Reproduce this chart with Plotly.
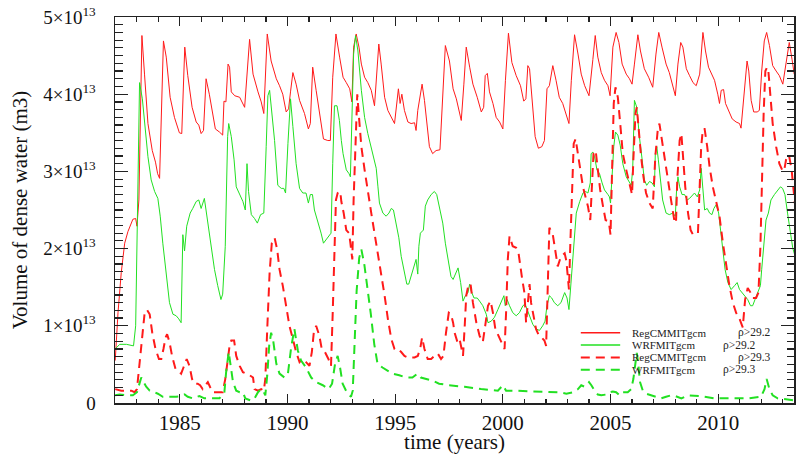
import plotly.graph_objects as go

# ---------------- data (values in units of 1e13 m3) ----------------
reg292_year = [1982.00,1982.13,1982.28,1982.44,1982.59,1982.82,1982.95,1983.01,1983.10,1983.24,1983.36,1983.52,1983.72,1983.87,1983.97,1984.06,1984.24,1984.37,1984.55,1984.75,1984.98,1985.09,1985.23,1985.37,1985.57,1985.76,1985.88,1985.99,1986.10,1986.22,1986.37,1986.53,1986.65,1986.84,1986.99,1987.05,1987.14,1987.24,1987.31,1987.39,1987.55,1987.78,1987.93,1988.01,1988.24,1988.40,1988.63,1988.78,1988.90,1989.06,1989.24,1989.48,1989.63,1989.78,1989.94,1990.05,1990.14,1990.25,1990.40,1990.56,1990.79,1990.97,1991.06,1991.17,1991.33,1991.56,1991.67,1991.87,1991.99,1992.10,1992.25,1992.42,1992.58,1992.73,1992.89,1992.99,1993.07,1993.19,1993.32,1993.43,1993.58,1993.73,1993.89,1994.04,1994.24,1994.35,1994.51,1994.66,1994.82,1994.97,1995.15,1995.23,1995.31,1995.43,1995.59,1995.74,1995.90,1995.97,1996.05,1996.25,1996.36,1996.47,1996.59,1996.74,1996.90,1997.08,1997.21,1997.33,1997.52,1997.69,1997.84,1997.99,1998.07,1998.19,1998.30,1998.46,1998.61,1998.81,1999.00,1999.11,1999.18,1999.28,1999.38,1999.54,1999.69,1999.85,2000.00,2000.12,2000.26,2000.42,2000.62,2000.82,2000.97,2001.07,2001.16,2001.24,2001.39,2001.50,2001.65,2001.81,2001.93,2002.05,2002.16,2002.32,2002.47,2002.62,2002.78,2002.87,2003.07,2003.18,2003.33,2003.49,2003.64,2003.80,2004.00,2004.18,2004.29,2004.41,2004.57,2004.72,2004.88,2004.98,2005.11,2005.26,2005.39,2005.54,2005.73,2005.88,2006.00,2006.11,2006.27,2006.39,2006.57,2006.77,2006.96,2007.11,2007.24,2007.39,2007.58,2007.73,2007.89,2008.01,2008.13,2008.26,2008.36,2008.52,2008.67,2008.83,2008.98,2009.14,2009.29,2009.41,2009.55,2009.71,2009.83,2009.98,2010.06,2010.14,2010.25,2010.34,2010.48,2010.65,2010.83,2010.99,2011.06,2011.19,2011.34,2011.42,2011.53,2011.65,2011.81,2011.91,2012.02,2012.14,2012.25,2012.38,2012.53,2012.69,2012.84,2013.00,2013.15,2013.30,2013.43,2013.53]
reg292_val = [0.55,1.17,1.69,2.07,2.22,2.38,2.39,2.29,2.63,4.76,4.26,3.62,3.27,3.12,2.97,2.91,4.69,4.48,3.96,3.70,3.50,3.49,4.61,4.24,3.83,3.64,3.60,3.49,3.53,4.20,4.00,3.75,3.55,3.51,3.47,3.91,3.90,4.39,4.35,4.03,3.98,3.96,3.88,3.83,4.71,4.26,4.03,3.90,3.75,4.78,4.43,4.20,4.11,4.00,3.77,3.81,4.03,4.28,4.13,3.92,3.75,3.55,3.62,4.35,4.05,3.66,3.42,3.40,3.40,4.22,4.78,4.48,4.22,4.15,4.07,3.90,4.61,4.78,4.61,4.39,4.22,4.15,4.05,3.85,4.65,4.39,3.96,3.79,3.70,3.62,4.07,3.88,4.00,3.79,3.64,3.62,3.63,3.53,3.79,4.13,3.92,3.62,3.32,3.23,3.27,3.28,4.05,4.63,4.43,4.07,3.94,3.75,3.66,4.13,4.61,4.35,4.13,3.96,3.77,3.83,4.24,4.27,4.03,3.88,3.70,3.64,3.55,4.18,4.79,4.41,4.24,4.11,3.91,3.94,4.37,4.33,3.79,3.45,3.30,3.32,3.40,4.07,4.11,4.37,4.18,3.96,3.88,3.79,3.62,4.18,4.77,4.52,4.26,4.11,3.98,4.45,4.76,4.48,4.28,4.18,4.11,3.98,4.61,4.80,4.67,4.39,4.26,4.20,4.13,4.39,4.77,4.56,4.33,4.22,4.09,4.52,4.80,4.61,4.39,4.28,4.11,3.98,4.39,4.67,4.61,4.33,4.24,4.15,4.11,4.26,4.80,4.56,4.35,4.24,4.18,4.00,3.88,4.05,4.06,3.88,3.79,3.68,3.64,3.62,3.56,3.96,4.43,4.30,3.92,3.77,3.77,3.79,4.30,4.69,4.80,4.63,4.37,4.30,4.24,4.13,4.39,4.67,4.45,4.26]

wrf292_year = [1982.00,1982.21,1982.52,1982.75,1982.85,1982.95,1983.01,1983.13,1983.26,1983.36,1983.52,1983.67,1983.83,1983.98,1984.09,1984.21,1984.37,1984.52,1984.68,1984.83,1984.95,1985.06,1985.14,1985.22,1985.32,1985.48,1985.60,1985.76,1985.88,1985.99,1986.14,1986.30,1986.45,1986.61,1986.76,1986.91,1986.99,1987.11,1987.22,1987.27,1987.39,1987.52,1987.62,1987.78,1987.93,1988.04,1988.12,1988.19,1988.32,1988.47,1988.60,1988.75,1988.90,1989.01,1989.09,1989.17,1989.27,1989.40,1989.55,1989.71,1989.83,1989.91,1990.02,1990.14,1990.25,1990.40,1990.56,1990.71,1990.86,1990.97,1991.06,1991.16,1991.25,1991.40,1991.56,1991.67,1991.79,1991.90,1992.02,1992.10,1992.18,1992.30,1992.41,1992.50,1992.58,1992.73,1992.86,1992.92,1992.99,1993.07,1993.16,1993.27,1993.43,1993.58,1993.73,1993.89,1994.00,1994.12,1994.20,1994.27,1994.43,1994.58,1994.71,1994.82,1994.92,1995.05,1995.17,1995.28,1995.43,1995.54,1995.63,1995.74,1995.85,1995.97,1996.05,1996.10,1996.17,1996.31,1996.40,1996.51,1996.67,1996.82,1996.93,1997.05,1997.21,1997.33,1997.44,1997.59,1997.69,1997.84,1997.92,1998.04,1998.15,1998.26,1998.38,1998.46,1998.53,1998.66,1998.81,1998.92,1999.07,1999.23,1999.31,1999.46,1999.61,1999.77,1999.92,2000.05,2000.11,2000.20,2000.31,2000.46,2000.62,2000.77,2000.93,2001.03,2001.13,2001.24,2001.39,2001.54,2001.70,2001.85,2001.96,2002.05,2002.16,2002.27,2002.39,2002.55,2002.70,2002.87,2002.98,2003.07,2003.18,2003.29,2003.41,2003.57,2003.72,2003.84,2003.95,2004.06,2004.10,2004.18,2004.26,2004.37,2004.49,2004.61,2004.72,2004.88,2004.95,2005.00,2005.08,2005.15,2005.23,2005.34,2005.45,2005.57,2005.73,2005.88,2005.96,2006.03,2006.11,2006.22,2006.34,2006.47,2006.57,2006.68,2006.81,2006.93,2007.04,2007.08,2007.15,2007.22,2007.32,2007.42,2007.58,2007.73,2007.89,2008.01,2008.06,2008.13,2008.21,2008.32,2008.44,2008.56,2008.67,2008.78,2008.90,2009.03,2009.14,2009.21,2009.29,2009.37,2009.49,2009.60,2009.71,2009.80,2009.91,2010.02,2010.11,2010.22,2010.32,2010.45,2010.60,2010.76,2010.88,2010.99,2011.10,2011.25,2011.37,2011.50,2011.60,2011.71,2011.84,2011.96,2012.02,2012.11,2012.22,2012.33,2012.45,2012.61,2012.76,2012.89,2012.99,2013.10,2013.22,2013.35,2013.46,2013.61]
wrf292_val = [0.70,0.76,0.76,0.75,0.74,1.00,2.03,4.15,3.94,3.62,3.19,2.89,2.74,2.65,2.42,2.07,1.64,1.30,1.15,1.13,1.09,1.04,2.18,1.97,2.29,2.46,2.52,2.61,2.63,2.52,2.65,2.33,2.03,1.73,1.52,1.34,1.41,2.03,3.45,3.62,3.45,3.15,2.80,2.70,2.61,2.50,3.10,2.74,2.44,2.39,2.33,2.44,2.46,3.32,3.98,4.05,3.79,3.40,2.82,2.78,2.78,2.72,3.36,3.94,3.58,3.10,2.78,2.72,2.72,2.59,2.70,2.70,2.50,2.37,2.20,2.07,2.12,2.16,2.20,3.10,3.85,3.85,3.66,3.40,3.23,3.02,2.97,2.93,3.75,4.52,4.76,4.56,4.05,3.70,3.49,3.30,3.15,3.04,2.80,2.59,2.46,2.42,2.46,2.52,2.50,2.29,2.14,1.90,1.67,1.54,1.54,1.64,1.73,1.86,1.67,2.03,2.20,2.24,2.55,2.63,2.70,2.74,2.70,2.55,2.33,2.07,1.86,1.64,1.60,1.69,1.75,1.56,1.32,1.39,1.43,1.54,1.45,1.36,1.36,1.32,1.26,1.15,1.04,1.06,1.11,1.21,1.30,1.39,1.26,1.34,1.26,1.17,1.13,1.17,1.26,1.28,1.21,1.13,1.02,0.96,0.94,1.00,1.06,1.26,1.39,1.36,1.30,1.26,1.30,1.43,1.36,1.21,1.60,2.03,2.46,2.61,2.72,2.74,2.72,2.85,3.23,3.25,3.19,3.02,2.97,2.85,2.76,2.70,2.67,2.59,2.97,3.32,3.51,3.47,3.34,3.10,2.93,2.85,2.82,3.02,3.92,3.83,3.45,3.15,2.89,2.82,2.87,2.85,2.80,3.23,3.32,3.15,2.89,2.63,2.46,2.44,2.46,2.42,2.72,2.93,2.80,2.70,2.70,2.63,2.65,2.68,2.72,2.67,2.76,3.04,2.76,2.50,2.52,2.46,2.44,2.52,2.57,2.46,2.24,1.99,1.73,1.56,1.47,1.52,1.56,1.47,1.43,1.39,1.34,1.26,1.26,1.34,1.43,1.52,1.73,2.03,2.37,2.46,2.63,2.70,2.76,2.80,2.78,2.70,2.46,2.20,2.01,1.86]

reg293_year = [1982.00,1982.28,1982.75,1982.90,1983.01,1983.13,1983.26,1983.36,1983.47,1983.60,1983.72,1983.87,1984.03,1984.14,1984.24,1984.34,1984.41,1984.52,1984.64,1984.80,1984.91,1985.06,1985.17,1985.32,1985.45,1985.57,1985.68,1985.83,1985.94,1986.06,1986.19,1986.30,1986.40,1986.53,1986.84,1986.99,1987.11,1987.22,1987.31,1987.39,1987.52,1987.62,1987.78,1987.93,1988.09,1988.24,1988.40,1988.47,1988.63,1988.78,1988.90,1988.97,1989.06,1989.17,1989.27,1989.40,1989.52,1989.63,1989.78,1989.94,1990.09,1990.25,1990.40,1990.56,1990.71,1990.86,1991.02,1991.13,1991.22,1991.33,1991.48,1991.59,1991.74,1991.90,1992.02,1992.10,1992.18,1992.25,1992.33,1992.45,1992.50,1992.61,1992.73,1992.86,1992.92,1993.01,1993.07,1993.16,1993.24,1993.32,1993.43,1993.58,1993.73,1993.89,1994.04,1994.20,1994.35,1994.51,1994.66,1994.82,1994.97,1995.12,1995.28,1995.43,1995.59,1995.90,1996.05,1996.16,1996.25,1996.36,1996.51,1996.67,1996.82,1996.98,1997.13,1997.24,1997.36,1997.49,1997.59,1997.69,1997.76,1997.89,1997.99,1998.15,1998.23,1998.30,1998.41,1998.50,1998.61,1998.77,1998.92,1999.07,1999.18,1999.31,1999.43,1999.54,1999.65,1999.80,1999.92,2000.08,2000.15,2000.23,2000.31,2000.46,2000.62,2000.73,2000.88,2001.00,2001.08,2001.16,2001.24,2001.31,2001.44,2001.54,2001.65,2001.81,2001.93,2002.01,2002.08,2002.16,2002.32,2002.42,2002.55,2002.70,2002.87,2002.95,2003.07,2003.13,2003.22,2003.29,2003.38,2003.49,2003.60,2003.72,2003.84,2003.95,2004.06,2004.14,2004.21,2004.31,2004.41,2004.52,2004.65,2004.77,2004.92,2005.00,2005.08,2005.15,2005.23,2005.34,2005.45,2005.57,2005.73,2005.88,2006.00,2006.06,2006.16,2006.22,2006.31,2006.42,2006.53,2006.65,2006.81,2006.96,2007.08,2007.19,2007.27,2007.39,2007.50,2007.65,2007.81,2007.96,2008.04,2008.10,2008.21,2008.29,2008.36,2008.47,2008.60,2008.72,2008.83,2009.06,2009.14,2009.21,2009.29,2009.37,2009.49,2009.60,2009.75,2009.91,2010.06,2010.22,2010.37,2010.52,2010.68,2010.83,2010.99,2011.14,2011.25,2011.37,2011.50,2011.60,2011.76,2011.87,2011.96,2012.02,2012.11,2012.19,2012.27,2012.33,2012.42,2012.53,2012.69,2012.84,2013.00,2013.07,2013.15,2013.22,2013.30,2013.41,2013.50,2013.61]
reg293_val = [0.18,0.16,0.16,0.14,0.18,0.53,0.91,1.15,1.21,1.15,0.91,0.70,0.57,0.57,0.70,0.85,0.89,0.79,0.61,0.44,0.42,0.38,0.46,0.57,0.48,0.31,0.25,0.25,0.23,0.18,0.23,0.27,0.21,0.14,0.14,0.14,0.31,0.59,0.74,0.81,0.81,0.61,0.48,0.40,0.38,0.36,0.33,0.18,0.16,0.18,0.16,0.31,0.96,1.69,2.07,2.14,1.99,1.73,1.52,1.26,1.00,0.83,0.66,0.53,0.57,0.53,0.48,0.66,0.91,1.00,0.87,0.70,0.66,0.57,0.48,1.17,2.03,2.63,2.72,2.74,2.61,2.46,2.24,2.20,2.07,1.86,2.63,3.53,4.00,3.70,3.32,3.02,2.72,2.46,2.20,1.94,1.64,1.39,1.09,0.83,0.70,0.70,0.66,0.61,0.59,0.59,0.61,0.70,0.85,0.70,0.57,0.57,0.61,0.64,0.57,0.61,0.91,1.17,1.15,1.04,0.91,0.79,0.83,0.61,1.00,1.39,1.54,1.54,1.30,1.04,0.87,0.79,1.00,1.26,1.32,1.17,0.96,0.87,0.79,0.70,1.17,1.86,2.16,2.03,2.01,1.94,1.64,1.43,1.04,1.30,1.54,1.30,1.09,0.96,0.89,0.85,0.81,0.74,1.47,2.27,2.18,1.99,1.77,1.90,1.94,1.84,1.47,2.03,2.89,3.36,3.42,3.23,3.02,2.80,2.67,2.55,2.37,2.89,3.23,3.27,3.02,2.76,2.55,2.37,2.35,2.18,3.10,3.88,4.09,3.96,3.62,3.23,3.02,2.85,2.70,3.15,3.75,3.83,3.53,3.19,2.93,2.72,2.59,2.52,3.19,3.53,3.62,3.40,3.15,2.89,2.63,2.37,2.33,2.89,3.40,3.49,3.23,2.80,2.46,2.24,2.18,2.20,2.80,3.32,3.55,3.55,3.32,3.06,2.80,2.59,2.42,2.07,1.77,1.52,1.30,1.17,1.09,0.98,1.34,1.49,1.43,1.36,1.36,1.43,2.03,2.89,3.75,4.30,4.35,4.30,3.96,3.62,3.32,3.10,3.00,3.02,3.15,3.21,3.19,3.02,2.76,2.45]

wrf293_year = [1982.00,1982.21,1982.52,1982.82,1983.01,1983.13,1983.21,1983.32,1983.44,1983.60,1983.75,1983.98,1984.21,1984.52,1984.83,1985.06,1985.22,1985.37,1985.60,1985.91,1986.14,1986.53,1986.84,1987.07,1987.15,1987.27,1987.36,1987.47,1987.62,1987.78,1987.93,1988.04,1988.32,1988.47,1988.63,1988.78,1988.90,1988.97,1989.06,1989.15,1989.24,1989.34,1989.48,1989.63,1989.86,1990.02,1990.17,1990.32,1990.48,1990.63,1990.86,1991.10,1991.33,1991.64,1991.91,1992.07,1992.21,1992.33,1992.44,1992.56,1992.75,1992.95,1993.03,1993.10,1993.21,1993.33,1993.43,1993.57,1993.72,1993.87,1994.03,1994.18,1994.41,1994.65,1994.88,1995.19,1995.49,1995.80,1996.03,1996.19,1996.42,1996.73,1997.04,1997.50,1998.22,1998.99,1999.77,2000.00,2000.15,2000.54,2001.31,2002.08,2002.64,2002.95,2003.26,2003.49,2003.64,2003.80,2004.00,2004.11,2004.26,2004.41,2004.57,2004.80,2004.95,2005.11,2005.26,2005.42,2005.57,2005.80,2005.96,2006.06,2006.16,2006.22,2006.28,2006.37,2006.50,2006.65,2006.88,2007.11,2007.35,2007.58,2007.81,2008.01,2008.29,2008.60,2009.21,2009.83,2010.60,2011.37,2011.99,2012.15,2012.25,2012.38,2012.53,2012.76,2013.15,2013.61]
wrf293_val = [0.10,0.11,0.10,0.10,0.14,0.27,0.33,0.27,0.21,0.16,0.15,0.12,0.08,0.08,0.08,0.09,0.11,0.08,0.06,0.09,0.06,0.06,0.06,0.14,0.40,0.66,0.48,0.27,0.16,0.14,0.14,0.06,0.03,0.06,0.14,0.18,0.14,0.10,0.36,0.74,0.91,0.80,0.51,0.38,0.33,0.38,0.72,0.96,0.68,0.55,0.46,0.33,0.27,0.23,0.18,0.25,0.51,0.61,0.46,0.25,0.14,0.08,0.16,0.72,1.45,1.88,1.99,1.79,1.49,1.15,0.76,0.51,0.46,0.42,0.38,0.36,0.33,0.33,0.38,0.33,0.31,0.29,0.25,0.23,0.21,0.18,0.16,0.23,0.16,0.16,0.15,0.14,0.14,0.12,0.14,0.18,0.23,0.21,0.27,0.23,0.16,0.11,0.10,0.11,0.14,0.15,0.14,0.10,0.14,0.14,0.18,0.31,0.57,0.65,0.53,0.27,0.16,0.12,0.10,0.08,0.06,0.08,0.10,0.09,0.06,0.10,0.09,0.06,0.06,0.06,0.08,0.18,0.31,0.18,0.10,0.06,0.05,0.03]

SCALE = 1e13
y_tick_vals = [0, 1, 2, 3, 4, 5]
y_tick_text = ["0", "1×10<sup>13</sup>", "2×10<sup>13</sup>", "3×10<sup>13</sup>",
               "4×10<sup>13</sup>", "5×10<sup>13</sup>"]
x_tick_vals = [1985, 1990, 1995, 2000, 2005, 2010]

legend_names = ["RegCMMITgcm", "WRFMITgcm", "RegCMMITgcm", "WRFMITgcm"]
legend_rho = ["ρ>29.2", "ρ>29.2", "ρ>29.3", "ρ>29.3"]

RED = "#ff1a1a"
GREEN = "#22e022"
FONT = "Liberation Serif"

series = [
    (reg292_year, reg292_val, RED, 1, "solid"),
    (wrf292_year, wrf292_val, GREEN, 1, "solid"),
    (reg293_year, reg293_val, RED, 2, "9px,6px"),
    (wrf293_year, wrf293_val, GREEN, 2, "9px,6px"),
]

fig = go.Figure()
for (xs, vs, col, w, dash), nm, rho in zip(series, legend_names, legend_rho):
    fig.add_trace(go.Scatter(
        x=xs, y=[v * SCALE for v in vs], mode="lines",
        line=dict(color=col, width=w, dash=dash),
        name=nm + "  " + rho, showlegend=False, hoverinfo="skip"))

# manual compact legend (IDL style)
row_y = [0.182, 0.150, 0.118, 0.086]
rho_x = [0.916, 0.894, 0.916, 0.894]
for (xs, vs, col, w, dash), nm, rho, ry, rx in zip(series, legend_names, legend_rho, row_y, rho_x):
    fig.add_shape(type="line", xref="paper", yref="paper",
                  x0=0.686, x1=0.744, y0=ry, y1=ry,
                  line=dict(color=col, width=w if w > 1 else 1.5, dash=dash))
    fig.add_annotation(xref="paper", yref="paper", x=0.760, y=ry, text=nm,
                       showarrow=False, xanchor="left", yanchor="middle", borderpad=0,
                       font=dict(family=FONT, size=11, color="#222"))
    fig.add_annotation(xref="paper", yref="paper", x=rx, y=ry, text=rho,
                       showarrow=False, xanchor="left", yanchor="middle", borderpad=0,
                       font=dict(family=FONT, size=11.5, color="#222"))

axis_common = dict(showline=True, linecolor="#222", linewidth=1.5, mirror="allticks",
                   ticks="inside", tickcolor="#222", tickwidth=1.2,
                   showgrid=False, zeroline=False)

fig.update_xaxes(
    range=[1981.99, 2013.52], tickmode="array", tickvals=x_tick_vals,
    ticklen=9,
    minor=dict(ticks="inside", dtick=1, tick0=1980, ticklen=4.5, tickcolor="#222", tickwidth=1.2, showgrid=False),
    tickfont=dict(family=FONT, size=21, color="#111"),
    ticklabelstandoff=0,
    title=dict(text="time (years)", font=dict(family=FONT, size=21, color="#111"), standoff=3),
    **axis_common)
fig.update_yaxes(
    range=[0, 5 * SCALE], tickmode="array",
    tickvals=[v * SCALE for v in y_tick_vals], ticktext=y_tick_text,
    ticklen=13,
    minor=dict(ticks="inside", dtick=1e12, tick0=0, ticklen=7.5, tickcolor="#222", tickwidth=1.2, showgrid=False),
    tickfont=dict(family=FONT, size=19, color="#111"),
    ticklabelstandoff=14,
    title=dict(text="Volume of dense water (m3)", font=dict(family=FONT, size=21, color="#111"), standoff=10),
    **axis_common)

fig.update_layout(
    width=798, height=454,
    margin=dict(l=115, r=2, t=17, b=48),
    paper_bgcolor="white", plot_bgcolor="white",
    showlegend=False,
    font=dict(family=FONT),
)

fig.write_html("out.html",
               config={"displayModeBar": False, "staticPlot": True},
               post_script="document.body.style.margin='0';document.body.style.overflow='hidden';")
